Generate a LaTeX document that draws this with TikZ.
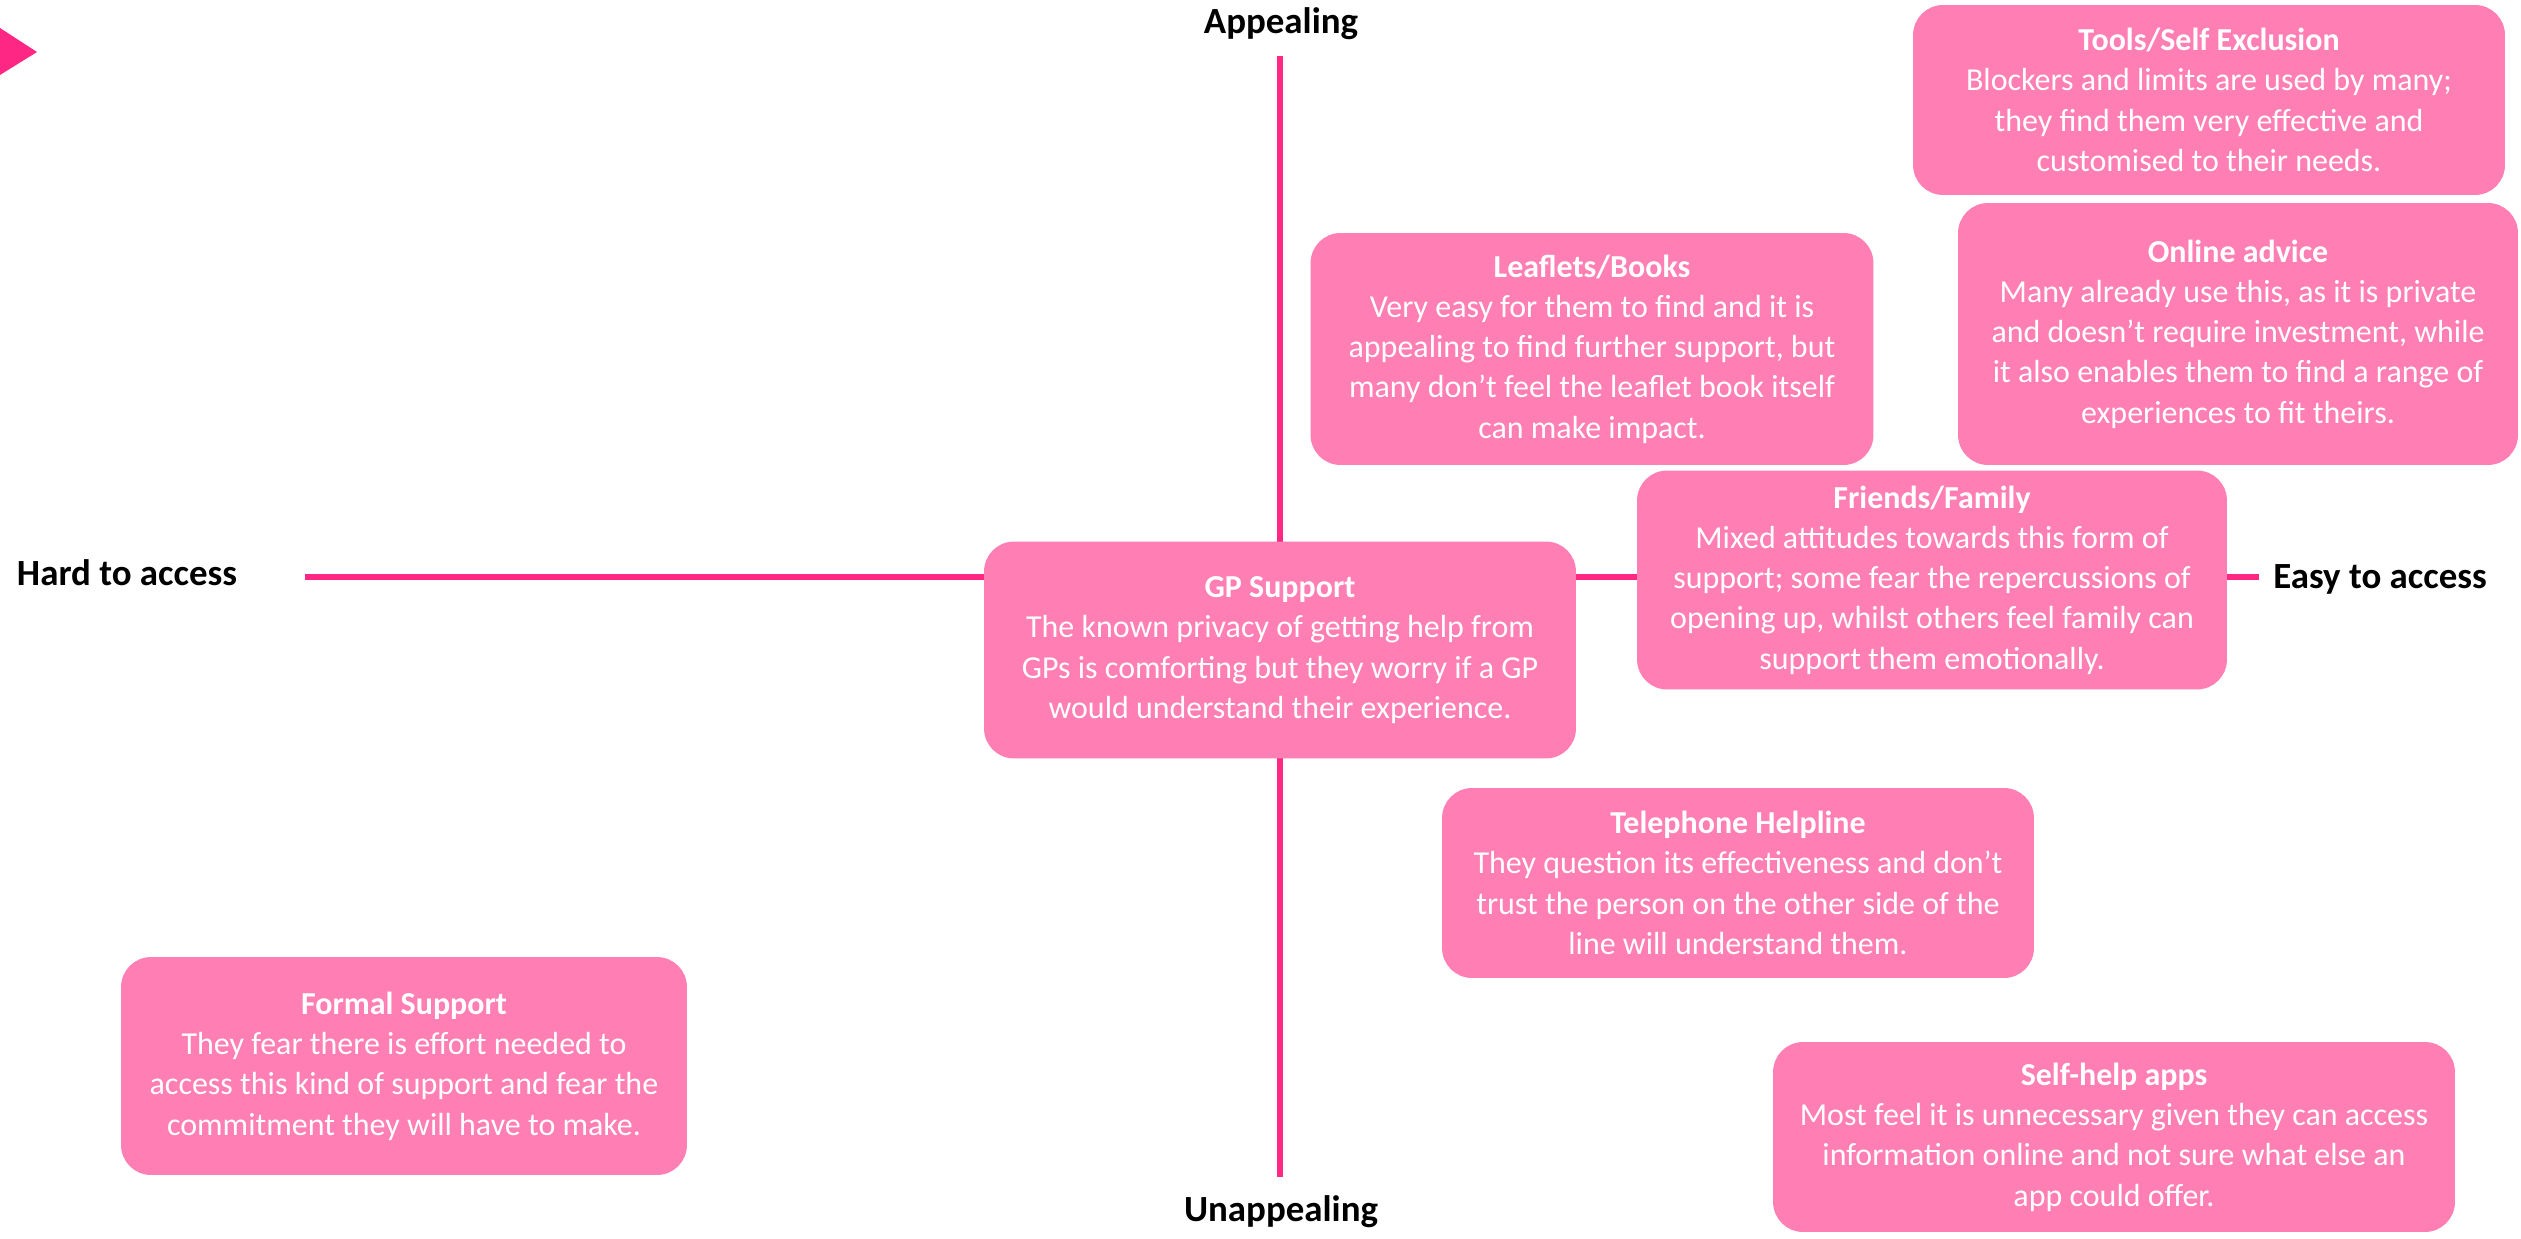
\documentclass[tikz,border=0pt]{standalone}
\usepackage{fontspec}
\setmainfont{Carlito}
\usepackage{tikz}
\definecolor{cardpink}{HTML}{FF7EB3}
\definecolor{axispink}{HTML}{FF2784}

\begin{document}
\begin{tikzpicture}[x=0.02cm,y=-0.02cm,
  card/.style={rectangle,rounded corners=0.6cm,fill=cardpink,text=white,align=center,
    font=\fontsize{18.2}{22.9}\selectfont,inner sep=0pt},
  axislabel/.style={black,font=\fontsize{21}{25}\selectfont\bfseries},
  axisline/.style={axispink,line width=3.4pt}]
\useasboundingbox (0,0) rectangle (2521,1239);

%Corner Marker
\fill[axispink] (0,28) -- (37,52) -- (0,75) -- cycle;

%Axis Ends
\coordinate (Top) at (1280,56);
\coordinate (Bottom) at (1280,1177);
\coordinate (Left) at (305,577);
\coordinate (Right) at (2259,577);

%Axis Labels
\node [axislabel] at (1281,24) (Appeal) {Appealing};
\node [axislabel] at (1281,1212) (Unappeal) {Unappealing};
\node [axislabel] at (127,573) (Hard) {Hard to access};
\node [axislabel] at (2380,579) (Easy) {Easy to access};

%Axes
\draw [axisline] (Top) -- (Bottom);
\draw [axisline] (Left) -- (Right);

%Boxes
\node at (2209,100) [card,minimum width=11.84cm,minimum height=3.8cm] (Tools)
  {\textbf{Tools/Self Exclusion}\\Blockers and limits are used by many;\\they find them very effective and\\customised to their needs.};
\node at (2238,334) [card,minimum width=11.2cm,minimum height=5.24cm] (Online)
  {\textbf{Online advice}\\Many already use this, as it is private\\and doesn’t require investment, while\\it also enables them to find a range of\\experiences to fit theirs.};
\node at (1592,349) [card,minimum width=11.26cm,minimum height=4.64cm] (Leaflets)
  {\textbf{Leaflets/Books}\\Very easy for them to find and it is\\appealing to find further support, but\\many don’t feel the leaflet book itself\\can make impact.};
\node at (1932,580) [card,minimum width=11.8cm,minimum height=4.38cm] (Friends)
  {\textbf{Friends/Family}\\Mixed attitudes towards this form of\\support; some fear the repercussions of\\opening up, whilst others feel family can\\support them emotionally.};
\node at (1280,650) [card,minimum width=11.84cm,minimum height=4.34cm] (GP)
  {\textbf{GP Support}\\The known privacy of getting help from\\GPs is comforting but they worry if a GP\\would understand their experience.};
\node at (1738,883) [card,minimum width=11.84cm,minimum height=3.8cm] (Phone)
  {\textbf{Telephone Helpline}\\They question its effectiveness and don’t\\trust the person on the other side of the\\line will understand them.};
\node at (404,1066) [card,minimum width=11.32cm,minimum height=4.36cm] (Formal)
  {\textbf{Formal Support}\\They fear there is effort needed to\\access this kind of support and fear the\\commitment they will have to make.};
\node at (2114,1137) [card,minimum width=13.64cm,minimum height=3.8cm] (Apps)
  {\textbf{Self-help apps}\\Most feel it is unnecessary given they can access\\information online and not sure what else an\\app could offer.};
\end{tikzpicture}
\end{document}
